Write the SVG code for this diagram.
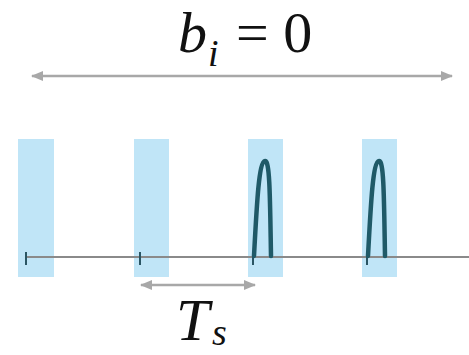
<svg xmlns="http://www.w3.org/2000/svg" width="469" height="355" viewBox="0 0 469 355">
<style>
.slot{fill:#c0e5f7}
.axis{stroke:#8a8a8a;stroke-width:2;fill:none}
.tick{stroke:#2a5563;stroke-width:2}
.pulse{stroke:#1f5a68;stroke-width:4.5;fill:none;stroke-linecap:round;stroke-linejoin:round}
.dim{stroke:#a8a8a8;stroke-width:2.5;fill:none}
</style>
<defs>
<marker id="ah" viewBox="0 0 10 10" refX="9" refY="5" markerWidth="5" markerHeight="5" orient="auto-start-reverse" markerUnits="strokeWidth">
<path d="M0,1 L10,5 L0,9 Z" fill="#a8a8a8"/>
</marker>
</defs>
<rect width="469" height="355" fill="#ffffff"/>
<g id="title" font-family="Liberation Serif, DejaVu Serif, serif" fill="#111">
<text x="178" y="52" font-size="58" font-style="italic">b</text>
<text x="208" y="66" font-size="38" font-style="italic">i</text>
<text x="236" y="52" font-size="58">= 0</text>
</g>
<g id="slots">
<rect id="slot1" class="slot" x="18" y="139" width="36" height="138"/>
<rect id="slot2" class="slot" x="134" y="139" width="35" height="138"/>
<rect id="slot3" class="slot" x="248" y="139" width="35" height="138"/>
<rect id="slot4" class="slot" x="362" y="139" width="35" height="138"/>
</g>
<g id="axis">
<line class="axis" x1="26" y1="257" x2="469" y2="257"/>
<line class="tick" x1="26" y1="252" x2="26" y2="265"/>
<line class="tick" x1="140" y1="252" x2="140" y2="265"/>
<line class="tick" x1="253" y1="252" x2="253" y2="265"/>
<line class="tick" x1="367" y1="252" x2="367" y2="265"/>
</g>
<g id="pulses">
<path class="pulse" d="M254,256 C257,200 259,162 265,161 C270,160 270,200 271,256"/>
<path class="pulse" d="M368,256 C371,200 373,162 379,161 C384,160 384,200 385,256"/>
</g>
<g id="connectors">
<line class="dim" x1="32" y1="76" x2="452" y2="76" marker-start="url(#ah)" marker-end="url(#ah)"/>
<line class="dim" x1="141" y1="285" x2="255" y2="285" marker-start="url(#ah)" marker-end="url(#ah)"/>
</g>
<g id="ts" font-family="Liberation Serif, DejaVu Serif, serif" fill="#111">
<text x="176" y="340" font-size="60" font-style="italic">T</text>
<text x="212" y="345" font-size="38" font-style="italic">s</text>
</g>
</svg>
